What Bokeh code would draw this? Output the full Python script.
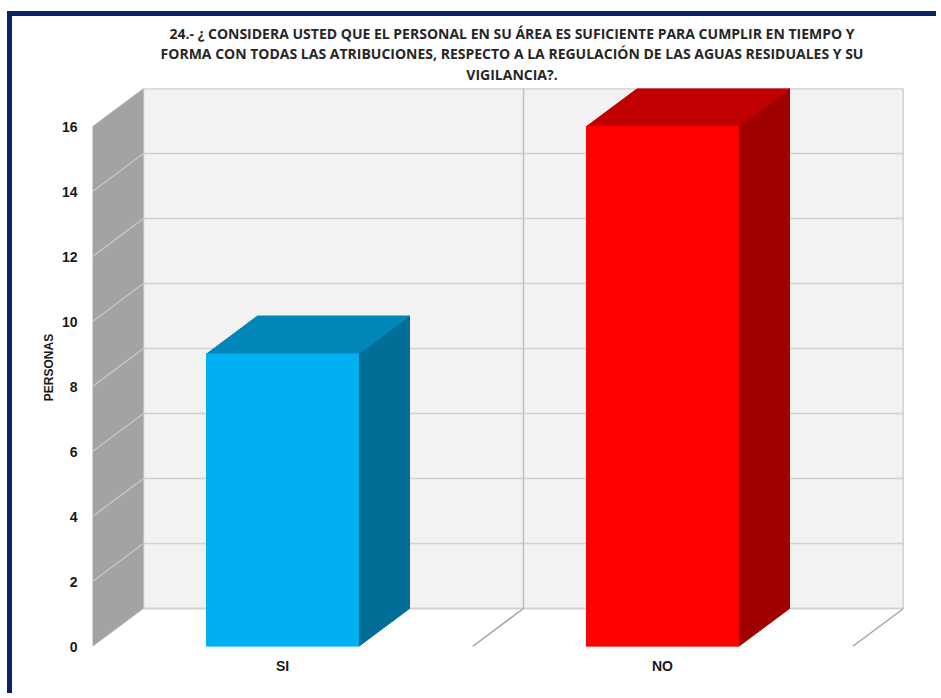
from bokeh.plotting import figure
from bokeh.models import Range1d, FixedTicker, Title
from bokeh.embed import file_html
from bokeh.resources import INLINE

# ---- data ----
categories = ["SI", "NO"]
values = [9, 16]
y_ticks = [0, 2, 4, 6, 8, 10, 12, 14, 16]
title_lines = [
    "24.- ¿ CONSIDERA USTED QUE EL PERSONAL EN SU ÁREA ES SUFICIENTE PARA CUMPLIR EN TIEMPO Y",
    "FORMA CON TODAS LAS ATRIBUCIONES, RESPECTO A LA REGULACIÓN DE LAS AGUAS RESIDUALES Y SU",
    "VIGILANCIA?.",
]
front_colors = ["#00B0F0", "#FF0000"]
top_colors = ["#0086B8", "#C00000"]
side_colors = ["#006E96", "#A00000"]

# ---- geometry (3D depth offsets, in data units) ----
DX = 51 / 380.0
DY = 38 / 32.5
YMAX = 16
N = len(categories)
BW = 0.4

W, H = 941 - 12, 698 - 16
p = figure(width=W, height=H, output_backend="svg", toolbar_location=None,
           x_range=Range1d(0, N + DX), y_range=Range1d(0, YMAX + DY),
           min_border_left=80, min_border_right=38, min_border_top=72, min_border_bottom=52)
p.margin = (11, 0, 0, 7)
p.styles = {"border-top": "5px solid #0B2263", "border-left": "5px solid #0B2263"}
p.grid.visible = False
p.outline_line_color = None
p.background_fill_color = "white"
p.border_fill_color = "white"

# back wall
p.quad(left=[DX], right=[N + DX], bottom=[DY], top=[YMAX + DY],
       fill_color="#F2F2F2", line_color="#D0D0D0", line_width=1.5)
for t in y_ticks:
    p.line([DX, N + DX], [t + DY, t + DY], line_color="#D0D0D0", line_width=1.5)
for i in range(1, N + 1):
    p.line([i + DX, i + DX], [DY, YMAX + DY], line_color="#BFBFBF", line_width=1.5)
    p.line([i, i + DX], [0, DY], line_color="#A6A6A6", line_width=1.5)
# side wall
p.patch([0, DX, DX, 0], [0, DY, YMAX + DY, YMAX], fill_color="#A3A3A3",
        line_color="#BFBFBF", line_width=1)
for t in y_ticks[1:-1]:
    p.line([0, DX], [t, t + DY], line_color="#C8C8C8", line_width=1.2)

# bars
for i, (v, fc, tc, sc) in enumerate(zip(values, front_colors, top_colors, side_colors)):
    l = i + 0.5 - BW / 2
    r = i + 0.5 + BW / 2
    p.patch([r, r + DX, r + DX, r], [0, DY, v + DY, v], fill_color=sc, line_color=sc)
    p.patch([l, l + DX, r + DX, r], [v, v + DY, v + DY, v], fill_color=tc, line_color=tc)
    p.quad(left=[l], right=[r], bottom=[0], top=[v], fill_color=fc, line_color=fc)

# axes
ya = p.yaxis[0]
ya.ticker = FixedTicker(ticks=y_ticks)
ya.axis_line_color = None
ya.major_tick_line_color = None
ya.minor_tick_line_color = None
ya.major_label_standoff = 9
ya.major_label_text_font = "Liberation Sans"
ya.major_label_text_font_style = "bold"
ya.major_label_text_font_size = "14px"
ya.major_label_text_color = "#1A1A1A"
ya.axis_label = "PERSONAS"
ya.axis_label_text_font = "Liberation Sans"
ya.axis_label_text_font_style = "bold"
ya.axis_label_text_font_size = "12px"
ya.axis_label_text_color = "#1A1A1A"
ya.axis_label_standoff = 3

xa = p.xaxis[0]
xa.ticker = FixedTicker(ticks=[i + 0.5 for i in range(N)])
xa.major_label_overrides = {i + 0.5: c for i, c in enumerate(categories)}
xa.axis_line_color = None
xa.major_tick_line_color = None
xa.minor_tick_line_color = None
xa.major_label_standoff = 5
xa.major_label_text_font = "Liberation Sans"
xa.major_label_text_font_style = "bold"
xa.major_label_text_font_size = "14px"
xa.major_label_text_color = "#1A1A1A"

# title (added bottom line first: later titles stack above)
standoffs = [0, -1, 0]
paddings = [(28, 0, 0, 5), (28, 0, 0, 0), (28, 0, 0, 0)]
for k, line in enumerate(reversed(title_lines)):
    p.add_layout(Title(text=line, align="center", text_font="Open Sans",
                       text_font_style="bold", text_font_size="14px",
                       text_color="#262626", standoff=standoffs[k],
                       padding=paddings[k]), "above")

open("out.html", "w").write(file_html(p, INLINE))
